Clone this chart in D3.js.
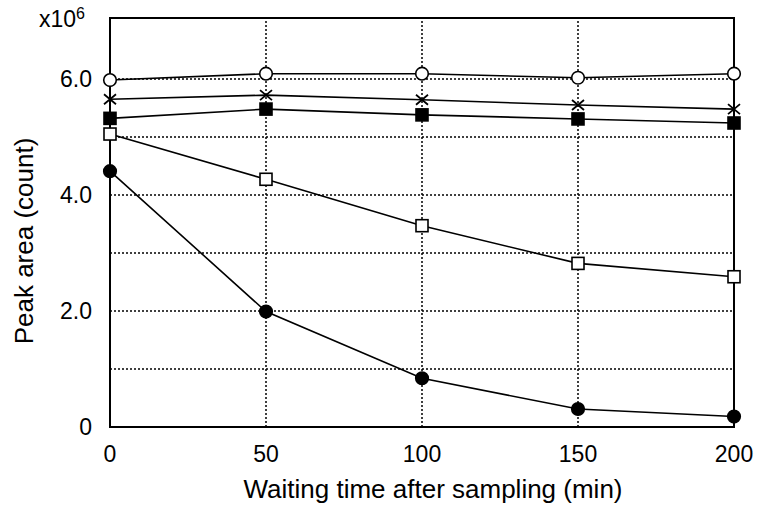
<!DOCTYPE html>
<meta charset="utf-8">
<style>
body { margin: 0; background: #fff; }
text { font-family: "Liberation Sans", Arial, sans-serif; fill: #000; }
.grid line { stroke: #000; stroke-width: 1.5px; stroke-dasharray: 2,2; }
</style>
<body>
<div class="canvas"></div>
</body>
<script src="https://d3js.org/d3.v7.min.js"></script>
<script>

var times = [0, 50, 100, 150, 200];
var openCircle = [5.98, 6.09, 6.09, 6.02, 6.09];
var cross = [5.65, 5.72, 5.64, 5.55, 5.48];
var filledSquare = [5.32, 5.48, 5.38, 5.31, 5.24];
var openSquare = [5.05, 4.27, 3.47, 2.82, 2.59];
var filledCircle = [4.41, 1.99, 0.84, 0.31, 0.18];

var xTicks = [0, 50, 100, 150, 200];
var yTicks = [0, 2, 4, 6];
var yGrid = [1, 2, 3, 4, 5, 6];

var w = 761,
    h = 507;

var svg = d3.select(".canvas").append("svg")
    .attr("width", w)
    .attr("height", h);

var x = d3.scaleLinear().domain([0, 200]).range([110, 734]);
var y = d3.scaleLinear().domain([0, 7.05]).range([427, 18]);

// grid
var grid = svg.append("g").attr("class", "grid");
grid.selectAll(".h")
    .data(yGrid)
  .enter().append("line")
    .attr("x1", x(0)).attr("x2", x(200))
    .attr("y1", y).attr("y2", y);
grid.selectAll(".v")
    .data([50, 100, 150])
  .enter().append("line")
    .attr("y1", y(0)).attr("y2", y(7.05))
    .attr("x1", x).attr("x2", x);

// frame
svg.append("rect")
    .attr("x", x(0)).attr("y", y(7.05))
    .attr("width", x(200) - x(0)).attr("height", y(0) - y(7.05))
    .attr("fill", "none").attr("stroke", "#000").attr("stroke-width", 2);

// tick labels
svg.selectAll(".xt")
    .data(xTicks)
  .enter().append("text")
    .attr("x", x).attr("y", 462)
    .attr("text-anchor", "middle")
    .style("font-size", "23px")
    .text(function(d) { return d; });

svg.selectAll(".yt")
    .data(yTicks)
  .enter().append("text")
    .attr("x", 92).attr("y", function(d) { return y(d) + 8; })
    .attr("text-anchor", "end")
    .style("font-size", "23px")
    .text(function(d) { return d === 0 ? "0" : d.toFixed(1); });

var mult = svg.append("text")
    .attr("x", 39).attr("y", 27)
    .style("font-size", "23px");
mult.append("tspan").text("x10");
mult.append("tspan").attr("dy", -8).style("font-size", "16px").text("6");

svg.append("text")
    .attr("x", 433).attr("y", 498)
    .attr("text-anchor", "middle")
    .style("font-size", "26px")
    .text("Waiting time after sampling (min)");

svg.append("text")
    .attr("transform", "translate(33,241) rotate(-90)")
    .attr("text-anchor", "middle")
    .style("font-size", "26px")
    .text("Peak area (count)");

// series
var series = [
  { values: filledCircle, shape: "circle", fill: "#000" },
  { values: openSquare, shape: "square", fill: "#fff" },
  { values: filledSquare, shape: "square", fill: "#000" },
  { values: cross, shape: "cross", fill: "none" },
  { values: openCircle, shape: "circle", fill: "#fff" }
];

var line = d3.line()
    .x(function(d, i) { return x(times[i]); })
    .y(function(d) { return y(d); });

series.forEach(function(s) {
  svg.append("path")
      .attr("d", line(s.values))
      .attr("fill", "none")
      .attr("stroke", "#000")
      .attr("stroke-width", 1.6);
});

series.forEach(function(s) {
  var g = svg.append("g");
  var pts = g.selectAll("g")
      .data(s.values)
    .enter().append("g")
      .attr("transform", function(d, i) { return "translate(" + x(times[i]) + "," + y(d) + ")"; });
  if (s.shape === "circle") {
    pts.append("circle")
        .attr("r", 6.3)
        .attr("fill", s.fill)
        .attr("stroke", "#000")
        .attr("stroke-width", 1.6);
  } else if (s.shape === "square") {
    pts.append("rect")
        .attr("x", -6).attr("y", -6)
        .attr("width", 12).attr("height", 12)
        .attr("fill", s.fill)
        .attr("stroke", "#000")
        .attr("stroke-width", 1.6);
  } else {
    pts.append("path")
        .attr("d", "M-6,-5L6,5M-6,5L6,-5")
        .attr("stroke", "#000")
        .attr("stroke-width", 1.8);
  }
});

</script>
